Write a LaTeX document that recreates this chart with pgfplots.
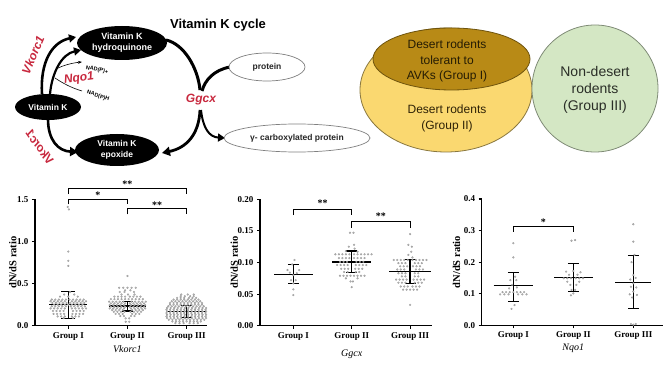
\documentclass[border=0pt]{standalone}
\usepackage{pgfplots}
\pgfplotsset{compat=1.18}
\usepackage{fontspec}
\setmainfont{Liberation Serif}
\newfontfamily\arial{Liberation Sans}
\usepackage{graphicx}
\usetikzlibrary{arrows.meta}
\definecolor{gred}{RGB}{200,40,62}
\definecolor{venyel}{RGB}{250,216,112}
\definecolor{vendark}{RGB}{184,138,22}
\definecolor{vengreen}{RGB}{212,231,196}
\definecolor{dotgray}{RGB}{150,150,150}
\pgfplotsset{
  dnds/.style={scale only axis, axis lines=left, axis line style={-, line width=1.1pt},
    tick align=outside, major tick length=3pt, every tick/.style={black, line width=1.1pt},
    xtick={1,2,3}, xticklabels={Group I,Group II,Group III},
    tick label style={font=\bfseries\fontsize{9}{10}\selectfont},
    /pgf/number format/assume math mode=true, clip=false, anchor=south west,
    ylabel={dN/dS ratio}, ylabel style={font=\bfseries\fontsize{10.5}{11}\selectfont, anchor=center, rotate=0},
    xlabel style={font=\itshape\fontsize{10}{11}\selectfont, anchor=center},
    y tick label style={/pgf/number format/.cd, fixed, fixed zerofill},
    xtick style={draw=black}},
  dots/.style={only marks, mark=*, mark size=0.95pt, mark options={fill=dotgray!70, draw=dotgray, line width=0.2pt}},
  meanl/.style={black, line width=1.5pt},
  sdbar/.style={draw=none, mark=none, error bars/.cd, y dir=both, y explicit,
    error bar style={line width=1.3pt, black}, error mark options={line width=1.3pt, black, mark size=#1, rotate=90}},
  sdbar/.default=5.5pt,
  brk/.style={black, line width=1.1pt}
}
\begin{document}
\begin{tikzpicture}[x=1pt,y=-1pt]
\path[use as bounding box, fill=white] (0,0) rectangle (671,379);

% ---------------- diagram ----------------
\node[font=\arial\bfseries\fontsize{13}{14}\selectfont] at (218,25) {Vitamin K cycle};
% arrows
\draw[line width=2.6pt, -{Triangle[length=7pt,width=8pt]}] (42,94) .. controls (40,62) and (52,42) .. (76,37);
\draw[line width=2.2pt, -{Triangle[length=7pt,width=8pt]}] (50,94) .. controls (52,72) and (62,54) .. (81,50);
\draw[line width=0.6pt, -{Stealth[length=4pt]}] (56,69) .. controls (64,65) and (72,63) .. (82,62);
\draw[line width=0.6pt] (55,78) .. controls (64,84) and (72,88) .. (82,91);
\draw[line width=3pt] (166,40) .. controls (184,44) and (198,68) .. (200,90);
\draw[line width=2.8pt, -{Triangle[length=8pt,width=9pt]}] (200,110) .. controls (199,135) and (186,148) .. (162,153);
\draw[line width=3pt] (230,67) .. controls (214,70) and (205,80) .. (202,91);
\draw[line width=2pt, -{Triangle[length=7pt,width=8pt]}] (201,110) .. controls (203,128) and (209,137) .. (225,138);
\draw[line width=2.6pt, -{Triangle[length=8pt,width=9pt]}] (48,119) .. controls (48,140) and (58,151) .. (78,152);
% ellipses
\fill[black] (122,43) ellipse [x radius=45, y radius=17];
\node[text=white, align=center, font=\arial\bfseries\fontsize{9}{11}\selectfont] at (122,43) {Vitamin K\\hydroquinone};
\fill[black] (48,107) ellipse [x radius=33, y radius=13];
\node[text=white, font=\arial\bfseries\fontsize{8.5}{10}\selectfont] at (48,107) {Vitamin K};
\fill[black] (117,150) ellipse [x radius=42, y radius=16];
\node[text=white, align=center, font=\arial\bfseries\fontsize{8.5}{11}\selectfont] at (117,150) {Vitamin K\\epoxide};
\draw[gray, fill=white, line width=0.7pt] (267,67) ellipse [x radius=38, y radius=14];
\node[font=\arial\bfseries\fontsize{8.5}{10}\selectfont, text=black!85] at (267,67) {protein};
\draw[gray, fill=white, line width=0.7pt] (297,138) ellipse [x radius=73, y radius=14];
\node[font=\arial\bfseries\fontsize{8.5}{10}\selectfont, text=black!85] at (297,138) {γ- carboxylated protein};
% labels
\node[text=gred, font=\arial\bfseries\itshape\fontsize{12}{13}\selectfont] at (201,100) {Ggcx};
\node[text=gred, font=\arial\bfseries\itshape\fontsize{12}{13}\selectfont, rotate=67, inner sep=0pt] at (33,55) {Vkorc1};
\node[text=gred, font=\arial\bfseries\itshape\fontsize{12}{13}\selectfont, rotate=-55, inner sep=0pt] at (40,147) {\reflectbox{Vkorc1}};
\node[text=gred, font=\arial\bfseries\itshape\fontsize{12}{13}\selectfont, rotate=8, inner sep=0pt] at (79,79) {Nqo1};
\node[font=\arial\bfseries\fontsize{5.5}{6}\selectfont, rotate=-12, inner sep=0pt] at (97,70) {NAD(P)+};
\node[font=\arial\bfseries\fontsize{5.5}{6}\selectfont, rotate=-18, inner sep=0pt] at (98,96) {NAD(P)H};

% ---------------- Venn ----------------
\draw[fill=venyel, draw=black!45!venyel, line width=0.8pt] (446,90) ellipse [x radius=86, y radius=62];
\draw[fill=vendark, draw=black!40!vendark, line width=0.8pt] (451.5,59) ellipse [x radius=78.5, y radius=31];
\draw[fill=vengreen, draw=black!40!vengreen, line width=0.8pt] (595,88.5) ellipse [x radius=63, y radius=63.5];
\node[align=center, text=black!80!vendark, font=\arial\fontsize{12}{15.5}\selectfont] at (447,61) {Desert rodents\\tolerant to\\AVKs (Group I)};
\node[align=center, text=black!75!vendark, font=\arial\fontsize{12}{16}\selectfont] at (447,118) {Desert rodents\\(Group II)};
\node[align=center, text=black!80!vengreen, font=\arial\fontsize{14}{17}\selectfont] at (595,90) {Non-desert\\rodents\\(Group III)};

% ---------------- plot 1: Vkorc1 ----------------
\begin{axis}[dnds, at={(35pt,-325.7pt)}, width=171.7pt, height=126.4pt,
  xmin=0.437, xmax=3.34, ymin=0, ymax=1.5, ytick={0,0.5,1,1.5},
  y tick label style={/pgf/number format/precision=1},
  xlabel={Vkorc1}, xlabel style={at={(axis description cs:0.538,-0.184)}},
  ylabel style={at={(axis description cs:-0.13,0.5)}}]
\addplot[dots] coordinates {
(0.99,1.41)(1.01,1.38)(1.0,0.88)(1.0,0.77)(1.0,0.71)
(1.03,0.40)(0.93,0.37)(1.10,0.37)(0.86,0.345)(1.0,0.345)(1.16,0.345)
(0.72,0.31)(0.78,0.31)(0.84,0.31)(0.90,0.31)(0.96,0.31)(1.02,0.31)(1.08,0.31)(1.14,0.31)(1.20,0.31)(1.26,0.31)
(0.70,0.29)(0.76,0.29)(0.82,0.29)(0.88,0.29)(0.94,0.29)(1.06,0.29)(1.12,0.29)(1.18,0.29)(1.24,0.29)(1.30,0.29)
(0.73,0.27)(0.79,0.27)(0.85,0.27)(0.91,0.27)(0.97,0.27)(1.03,0.27)(1.09,0.27)(1.15,0.27)(1.21,0.27)(1.27,0.27)
(0.76,0.25)(0.82,0.25)(0.88,0.25)(0.94,0.25)(1.0,0.25)(1.06,0.25)(1.12,0.25)(1.18,0.25)(1.24,0.25)
(0.72,0.23)(0.78,0.23)(0.84,0.23)(0.90,0.23)(0.96,0.23)(1.04,0.23)(1.10,0.23)(1.16,0.23)(1.22,0.23)(1.28,0.23)
(0.70,0.205)(0.76,0.205)(0.82,0.205)(0.88,0.205)(0.94,0.205)(1.06,0.205)(1.12,0.205)(1.18,0.205)(1.24,0.205)(1.30,0.205)
(0.74,0.175)(0.80,0.175)(0.86,0.175)(0.92,0.175)(1.08,0.175)(1.14,0.175)(1.20,0.175)(1.26,0.175)
(0.75,0.14)(0.81,0.14)(0.87,0.14)(0.93,0.14)(1.07,0.14)(1.13,0.14)(1.19,0.14)(1.25,0.14)
(0.82,0.11)(0.88,0.11)(0.94,0.11)(1.06,0.11)(1.12,0.11)(1.18,0.11)
(0.92,0.09)(1.08,0.09)
};
\addplot[dots] coordinates {
(2.0,0.59)
(1.86,0.45)(1.93,0.45)(2.0,0.45)(2.07,0.45)(2.14,0.45)
(1.96,0.42)(2.05,0.42)(1.87,0.40)(1.95,0.40)(2.11,0.40)(1.90,0.37)(2.01,0.37)(2.12,0.37)
(1.78,0.345)(1.84,0.345)(1.90,0.345)(1.96,0.345)(2.04,0.345)(2.10,0.345)(2.16,0.345)(2.22,0.345)
(1.72,0.315)(1.78,0.315)(1.84,0.315)(1.90,0.315)(1.96,0.315)(2.02,0.315)(2.08,0.315)(2.14,0.315)(2.20,0.315)(2.26,0.315)
(1.69,0.285)(1.75,0.285)(1.81,0.285)(1.87,0.285)(1.93,0.285)(2.07,0.285)(2.13,0.285)(2.19,0.285)(2.25,0.285)(2.31,0.285)
(1.72,0.265)(1.78,0.265)(1.84,0.265)(1.90,0.265)(1.96,0.265)(2.04,0.265)(2.10,0.265)(2.16,0.265)(2.22,0.265)(2.28,0.265)
(1.70,0.245)(1.76,0.245)(1.82,0.245)(1.88,0.245)(1.94,0.245)(2.06,0.245)(2.12,0.245)(2.18,0.245)(2.24,0.245)(2.30,0.245)
(1.72,0.225)(1.78,0.225)(1.84,0.225)(1.90,0.225)(1.96,0.225)(2.04,0.225)(2.10,0.225)(2.16,0.225)(2.22,0.225)(2.28,0.225)
(1.70,0.205)(1.76,0.205)(1.82,0.205)(1.88,0.205)(1.94,0.205)(2.06,0.205)(2.12,0.205)(2.18,0.205)(2.24,0.205)(2.30,0.205)
(1.74,0.185)(1.80,0.185)(1.86,0.185)(1.92,0.185)(2.08,0.185)(2.14,0.185)(2.20,0.185)(2.26,0.185)
(1.77,0.165)(1.83,0.165)(1.89,0.165)(1.95,0.165)(2.05,0.165)(2.11,0.165)(2.17,0.165)(2.23,0.165)
(1.80,0.14)(1.86,0.14)(1.92,0.14)(2.08,0.14)(2.14,0.14)(2.20,0.14)
(1.88,0.115)(1.94,0.115)(2.06,0.115)(2.12,0.115)
(1.97,0.087)(2.03,0.087)(1.97,0.047)(2.03,0.047)
};
\addplot[dots] coordinates {
(2.81,0.03)(2.88,0.03)(2.95,0.03)(3.05,0.03)(3.12,0.03)(3.19,0.03)
(2.76,0.05)(2.82,0.05)(2.88,0.05)(2.94,0.05)(3.00,0.05)(3.06,0.05)(3.12,0.05)(3.18,0.05)(3.24,0.05)
(2.70,0.07)(2.76,0.07)(2.82,0.07)(2.88,0.07)(2.94,0.07)(3.00,0.07)(3.06,0.07)(3.12,0.07)(3.18,0.07)(3.24,0.07)(3.30,0.07)
(2.67,0.09)(2.73,0.09)(2.79,0.09)(2.85,0.09)(2.91,0.09)(2.97,0.09)(3.03,0.09)(3.09,0.09)(3.15,0.09)(3.21,0.09)(3.27,0.09)(3.33,0.09)
(2.66,0.11)(2.72,0.11)(2.78,0.11)(2.84,0.11)(2.90,0.11)(2.96,0.11)(3.02,0.11)(3.08,0.11)(3.14,0.11)(3.20,0.11)(3.26,0.11)(3.32,0.11)
(2.67,0.13)(2.73,0.13)(2.79,0.13)(2.85,0.13)(2.91,0.13)(2.97,0.13)(3.03,0.13)(3.09,0.13)(3.15,0.13)(3.21,0.13)(3.27,0.13)(3.33,0.13)
(2.66,0.15)(2.72,0.15)(2.78,0.15)(2.84,0.15)(2.90,0.15)(2.96,0.15)(3.02,0.15)(3.08,0.15)(3.14,0.15)(3.20,0.15)(3.26,0.15)(3.32,0.15)
(2.67,0.17)(2.73,0.17)(2.79,0.17)(2.85,0.17)(2.91,0.17)(2.97,0.17)(3.03,0.17)(3.09,0.17)(3.15,0.17)(3.21,0.17)(3.27,0.17)(3.33,0.17)
(2.66,0.19)(2.72,0.19)(2.78,0.19)(2.84,0.19)(2.90,0.19)(2.96,0.19)(3.02,0.19)(3.08,0.19)(3.14,0.19)(3.20,0.19)(3.26,0.19)(3.32,0.19)
(2.67,0.21)(2.73,0.21)(2.79,0.21)(2.85,0.21)(2.91,0.21)(2.97,0.21)(3.03,0.21)(3.09,0.21)(3.15,0.21)(3.21,0.21)(3.27,0.21)(3.33,0.21)
(2.69,0.23)(2.75,0.23)(2.81,0.23)(2.87,0.23)(2.93,0.23)(2.99,0.23)(3.05,0.23)(3.11,0.23)(3.17,0.23)(3.23,0.23)(3.29,0.23)
(2.72,0.25)(2.78,0.25)(2.84,0.25)(2.90,0.25)(2.96,0.25)(3.02,0.25)(3.08,0.25)(3.14,0.25)(3.20,0.25)(3.26,0.25)
(2.72,0.27)(2.78,0.27)(2.84,0.27)(2.90,0.27)(2.96,0.27)(3.02,0.27)(3.08,0.27)(3.14,0.27)(3.20,0.27)(3.26,0.27)
(2.75,0.29)(2.81,0.29)(2.87,0.29)(2.93,0.29)(2.99,0.29)(3.05,0.29)(3.11,0.29)(3.17,0.29)(3.23,0.29)
(2.78,0.31)(2.84,0.31)(2.90,0.31)(2.96,0.31)(3.02,0.31)(3.08,0.31)(3.14,0.31)(3.20,0.31)
(2.84,0.33)(2.90,0.33)(2.96,0.33)(3.04,0.33)(3.10,0.33)(3.16,0.33)
(2.90,0.35)(2.97,0.35)(3.06,0.35)(3.12,0.35)
(2.91,0.37)(3.02,0.37)(3.12,0.37)
};
\addplot[meanl] coordinates {(0.68,0.253)(1.32,0.253)};
\addplot[meanl] coordinates {(1.68,0.233)(2.32,0.233)};
\addplot[meanl] coordinates {(2.67,0.166)(3.33,0.166)};
\addplot[sdbar=7pt] coordinates {(1,0.253) += (0,0.157) -= (0,0.166)};
\addplot[sdbar] coordinates {(2,0.233) += (0,0.052) -= (0,0.059)};
\addplot[sdbar] coordinates {(3,0.166) += (0,0.071) -= (0,0.071)};
\addplot[brk] coordinates {(1,1.56)(1,1.63)(3,1.63)(3,1.56)};
\addplot[brk] coordinates {(1,1.44)(1,1.50)(2,1.50)(2,1.44)};
\addplot[brk] coordinates {(2,1.32)(2,1.39)(3,1.39)(3,1.32)};
\node[font=\bfseries\fontsize{10}{10}\selectfont] at (axis cs:2,1.68) {**};
\node[font=\bfseries\fontsize{10}{10}\selectfont] at (axis cs:1.5,1.55) {*};
\node[font=\bfseries\fontsize{10}{10}\selectfont] at (axis cs:2.5,1.43) {**};
\end{axis}

% ---------------- plot 2: Ggcx ----------------
\begin{axis}[dnds, at={(260pt,-325.7pt)}, width=171.7pt, height=126.4pt,
  xmin=0.429, xmax=3.37, ymin=0, ymax=0.2, ytick={0,0.05,0.1,0.15,0.2},
  y tick label style={/pgf/number format/precision=2},
  xlabel={Ggcx}, xlabel style={at={(axis description cs:0.534,-0.224)}},
  ylabel style={at={(axis description cs:-0.15,0.5)}}]
\addplot[dots] coordinates {
(1.02,0.104)(0.98,0.097)(0.90,0.088)(1.10,0.088)(0.94,0.084)(1.06,0.083)(1.0,0.080)
(0.96,0.072)(1.04,0.072)(1.0,0.067)(1.0,0.0575)(1.0,0.0485)
};
\addplot[dots] coordinates {
(1.97,0.147)(2.03,0.147)(2.04,0.128)(1.95,0.125)(2.05,0.122)(1.90,0.118)(2.10,0.117)
(1.72,0.113)(1.78,0.113)(1.84,0.113)(1.90,0.113)(1.96,0.113)(2.04,0.113)(2.10,0.113)(2.16,0.113)(2.22,0.113)(2.28,0.113)(2.34,0.113)
(1.78,0.107)(1.84,0.107)(1.90,0.107)(1.96,0.107)(2.04,0.107)(2.10,0.107)(2.16,0.107)(2.22,0.107)
(1.80,0.101)(1.86,0.101)(1.92,0.101)(2.08,0.101)(2.14,0.101)(2.20,0.101)
(1.75,0.096)(1.81,0.096)(1.87,0.096)(1.93,0.096)(2.07,0.096)(2.13,0.096)(2.19,0.096)(2.25,0.096)
(1.82,0.090)(1.88,0.090)(1.94,0.090)(2.06,0.090)(2.12,0.090)(2.18,0.090)
(1.87,0.085)(1.93,0.085)(2.07,0.085)(2.13,0.085)
(1.80,0.079)(1.86,0.079)(1.92,0.079)(1.98,0.079)(2.04,0.079)(2.10,0.079)(2.16,0.079)(2.22,0.079)
(1.90,0.075)(2.10,0.075)(1.98,0.070)(2.02,0.070)(2.0,0.061)
};
\addplot[dots] coordinates {
(3.0,0.145)(2.97,0.128)(3.03,0.125)(3.02,0.117)(2.97,0.112)(3.04,0.108)
(2.72,0.104)(2.78,0.104)(2.84,0.104)(2.90,0.104)(2.96,0.104)(3.04,0.104)(3.10,0.104)(3.16,0.104)(3.22,0.104)(3.28,0.104)
(2.80,0.099)(2.86,0.099)(2.92,0.099)(3.08,0.099)(3.14,0.099)(3.20,0.099)
(2.83,0.094)(2.89,0.094)(2.95,0.094)(3.05,0.094)(3.11,0.094)(3.17,0.094)
(2.78,0.089)(2.84,0.089)(2.90,0.089)(3.10,0.089)(3.16,0.089)(3.22,0.089)
(2.80,0.083)(2.86,0.083)(2.92,0.083)(3.08,0.083)(3.14,0.083)
(2.86,0.078)(2.92,0.078)(3.08,0.078)(3.14,0.078)
(2.76,0.073)(2.82,0.073)(2.88,0.073)(2.94,0.073)(3.06,0.073)(3.12,0.073)(3.18,0.073)(3.24,0.073)
(2.80,0.068)(2.86,0.068)(2.92,0.068)(3.08,0.068)(3.14,0.068)(3.20,0.068)
(2.84,0.062)(2.90,0.062)(2.96,0.062)(3.04,0.062)(3.10,0.062)(3.16,0.062)
(2.88,0.057)(2.94,0.057)(3.00,0.057)(3.06,0.057)(3.12,0.057)
(3.0,0.033)
};
\addplot[meanl] coordinates {(0.67,0.081)(1.33,0.081)};
\addplot[meanl] coordinates {(1.67,0.101)(2.33,0.101)};
\addplot[meanl] coordinates {(2.64,0.0855)(3.36,0.0855)};
\addplot[sdbar] coordinates {(1,0.081) += (0,0.016) -= (0,0.0145)};
\addplot[sdbar] coordinates {(2,0.101) += (0,0.017) -= (0,0.017)};
\addplot[sdbar] coordinates {(3,0.0855) += (0,0.0195) -= (0,0.0185)};
\addplot[brk] coordinates {(1,0.175)(1,0.184)(2,0.184)(2,0.175)};
\addplot[brk] coordinates {(2,0.155)(2,0.1646)(3,0.1646)(3,0.155)};
\node[font=\bfseries\fontsize{10}{10}\selectfont] at (axis cs:1.5,0.194) {**};
\node[font=\bfseries\fontsize{10}{10}\selectfont] at (axis cs:2.5,0.1735) {**};
\end{axis}

% ---------------- plot 3: Nqo1 ----------------
\begin{axis}[dnds, at={(481.7pt,-325.3pt)}, width=181.6pt, height=126.3pt,
  xmin=0.473, xmax=3.5, ymin=0, ymax=0.4, ytick={0,0.1,0.2,0.3,0.4},
  y tick label style={/pgf/number format/precision=1},
  xlabel={Nqo1}, xlabel style={at={(axis description cs:0.504,-0.18)}},
  ylabel style={at={(axis description cs:-0.138,0.5)}}]
\addplot[dots] coordinates {
(1.0,0.26)(1.0,0.215)(1.03,0.154)(0.95,0.143)(1.05,0.143)(0.98,0.128)(1.06,0.120)(0.93,0.117)
(0.82,0.105)(0.88,0.105)(0.94,0.105)(1.0,0.105)(1.06,0.105)(1.12,0.105)(1.18,0.105)
(0.78,0.098)(0.85,0.098)(0.92,0.098)(1.08,0.098)(1.15,0.098)(1.22,0.098)
(1.02,0.064)(0.97,0.052)
};
\addplot[dots] coordinates {
(1.97,0.268)(2.03,0.270)(1.88,0.17)(2.0,0.172)(2.12,0.168)(1.93,0.16)(2.07,0.16)
(1.84,0.149)(1.90,0.149)(1.96,0.149)(2.04,0.149)(2.10,0.149)(2.16,0.149)
(1.9,0.138)(2.1,0.138)(1.95,0.128)(2.05,0.128)(1.97,0.112)(2.03,0.112)(2.0,0.101)(1.96,0.095)
};
\addplot[dots] coordinates {
(3.0,0.32)(3.0,0.265)(3.02,0.223)(2.97,0.20)(3.0,0.159)(3.04,0.15)(2.95,0.145)(3.0,0.133)
(2.96,0.122)(3.05,0.12)(3.0,0.107)(2.94,0.098)(3.06,0.096)(2.98,0.088)
(2.96,0.004)(3.04,0.004)(3.0,0.002)
};
\addplot[meanl] coordinates {(0.67,0.1255)(1.33,0.1255)};
\addplot[meanl] coordinates {(1.68,0.152)(2.32,0.152)};
\addplot[meanl] coordinates {(2.7,0.136)(3.3,0.136)};
\addplot[sdbar] coordinates {(1,0.1255) += (0,0.0425) -= (0,0.05)};
\addplot[sdbar] coordinates {(2,0.152) += (0,0.043) -= (0,0.045)};
\addplot[sdbar] coordinates {(3,0.136) += (0,0.085) -= (0,0.083)};
\addplot[brk] coordinates {(1,0.297)(1,0.312)(2,0.312)(2,0.297)};
\node[font=\bfseries\fontsize{10}{10}\selectfont] at (axis cs:1.5,0.328) {*};
\end{axis}
\end{tikzpicture}
\end{document}
